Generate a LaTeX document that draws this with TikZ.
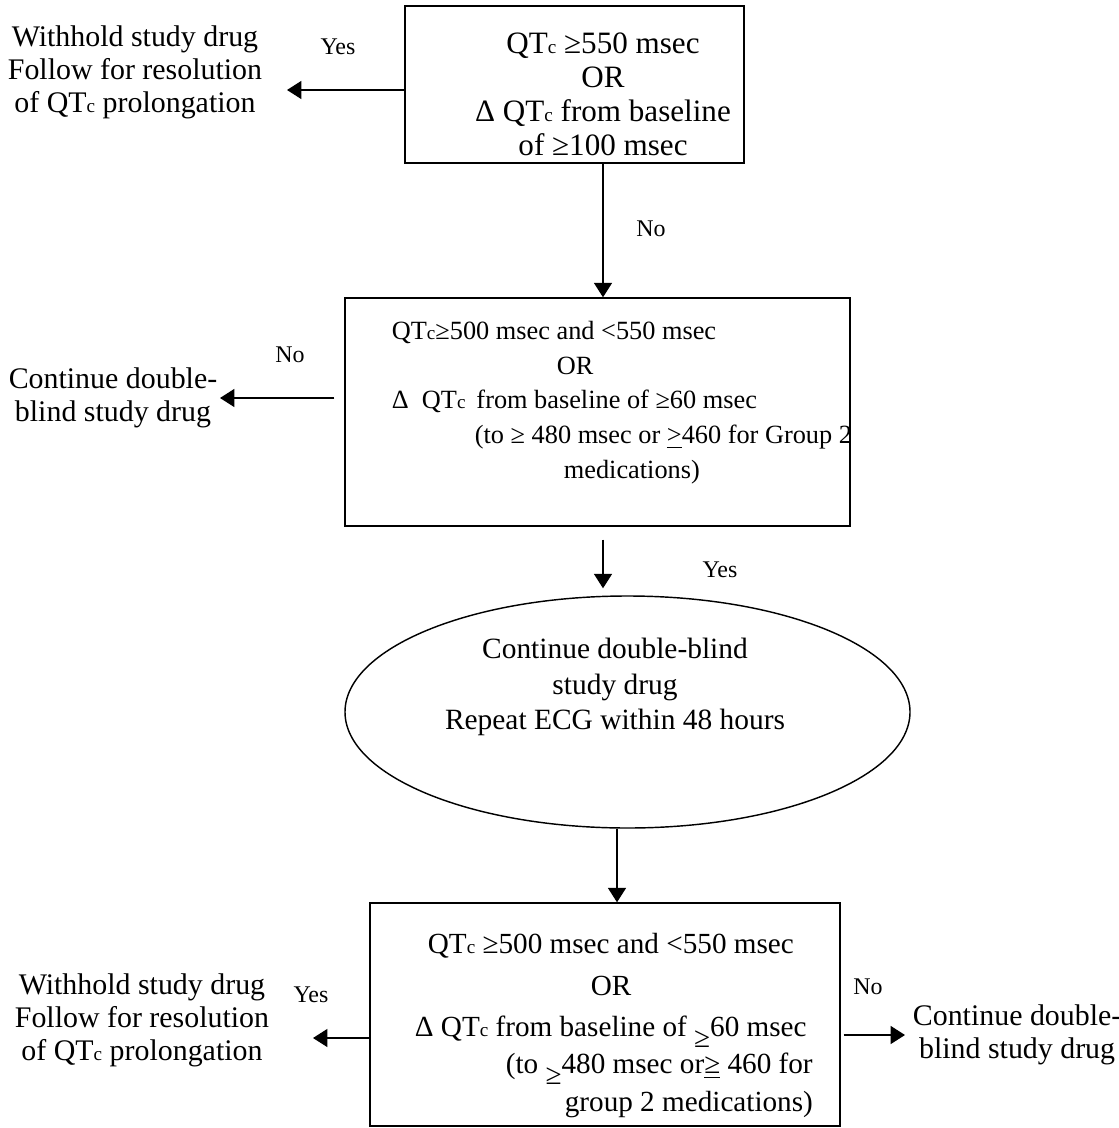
\documentclass[tikz,border=0pt]{standalone}
\usepackage{fontspec}
\setmainfont{Liberation Serif}
\usetikzlibrary{shapes.geometric,arrows.meta,positioning}
\newlength\px
\setlength\px{0.418pt}
\newcommand\QTc{QT{\fontsize{8}{8}\selectfont c}}
\newcommand\lowge{\smash{\raisebox{-0.35em}{≥}}}
\begin{document}
\begin{tikzpicture}[x=0.418pt, y=-0.418pt,
  every node/.style={font=\fontsize{12.5}{13.8}\selectfont},
  box/.style={draw,line width=0.6pt,inner sep=0pt},
  txt/.style={align=center,inner sep=1pt},
  lab/.style={font=\fontsize{10}{12}\selectfont,inner sep=1pt},
  arr/.style={line width=0.6pt,-{Triangle[length=6pt,width=7.5pt]}}]
  \useasboundingbox (0,0) rectangle (1118,1128);
  % first check
  \node[box,minimum width=339\px,minimum height=157\px] (b1) at (574.5,84.5) {};
  \node[txt,font=\fontsize{13}{14.2}\selectfont] (b1t) at (603,94)
    {\QTc\ ≥550 msec\\OR\\Δ \QTc\ from baseline\\of ≥100 msec};
  \node[txt] (w1) at (135,72) {Withhold study drug\\Follow for resolution\\of \QTc\ prolongation};
  \node[lab] (y1) at (338,47) {Yes};
  \coordinate (w1tip) at (287,90);
  \draw[arr] (w1tip -| b1.west) -- (w1tip);
  % second check
  \node[box,minimum width=505\px,minimum height=228\px] (b2) at (597.5,412) {};
  \node[txt,align=left,anchor=north west,font=\fontsize{11}{14.6}\selectfont] (b2t) at (389,318)
    {\QTc≥500 msec and <550 msec\\
     \hspace*{165\px}OR\\
     Δ\ \ \QTc\ \,from baseline of ≥60 msec\\
     \hspace*{83\px}(to ≥ 480 msec or \underline{>}460 for Group 2\\
     \hspace*{172\px}medications)};
  \draw[arr] (b1t |- b1.south) -- (b1t |- b2.north);
  \node[lab] (n1) at (651,229) {No};
  \node[txt] (c1) at (113,398) {Continue double-\\blind study drug};
  \node[lab] (n2) at (290,355) {No};
  \coordinate (c1tip) at (220,398);
  \draw[arr,shorten <=10\px] (c1tip -| b2.west) -- (c1tip);
  % repeat ECG
  \node[draw,ellipse,line width=0.6pt,inner sep=0pt,minimum width=565\px,minimum height=232\px] (ell) at (627.5,712) {};
  \node[txt,font=\fontsize{12.3}{15}\selectfont] (ellt) at (615,687)
    {Continue double-blind\\study drug\\Repeat ECG within 48 hours};
  \draw[arr,shorten <=13\px,shorten >=7\px] (b1t |- b2.south) -- (b1t |- ell.north);
  \node[lab] (y2) at (720,570) {Yes};
  % third check
  \node[box,minimum width=470\px,minimum height=223\px] (b3) at (605,1014.5) {};
  \node[txt,align=left,anchor=north west,font=\fontsize{12.2}{15.5}\selectfont] (b3t) at (412,930)
    {\hspace*{13\px}\QTc\ ≥500 msec and <550 msec\\[2pt]
     \hspace*{176\px}OR\\[2pt]
     Δ \QTc\ from baseline of \lowge60 msec\\
     \hspace*{91\px}(to \lowge480 msec or\underline{≥} 460 for\\
     \hspace*{150\px}group 2 medications)};
  \draw[arr] ([xshift=-10.5\px]ell.south) -- ([xshift=-10.5\px]ell.south |- b3.north);
  \node[txt] (w2) at (142,1020) {Withhold study drug\\Follow for resolution\\of \QTc\ prolongation};
  \node[lab] (y3) at (311,995) {Yes};
  \coordinate (w2tip) at (313,1038);
  \draw[arr] (w2tip -| b3.west) -- (w2tip);
  \node[txt,anchor=west] (c2) at (910,1035) {Continue double-\\blind study drug};
  \node[lab] (n3) at (868,987) {No};
  \coordinate (c2tip) at (905,1035);
  \draw[arr,shorten <=3\px] (c2tip -| b3.east) -- (c2tip);
\end{tikzpicture}
\end{document}
